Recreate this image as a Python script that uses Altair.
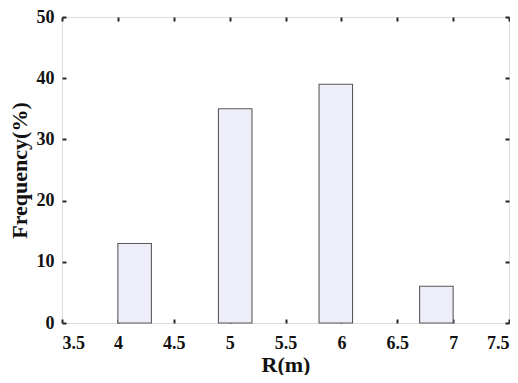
import altair as alt
import pandas as pd

bin_start = [4.0, 4.9, 5.8, 6.7]
bin_end = [4.3, 5.2, 6.1, 7.0]
freq = [13, 35, 39, 6]
x_ticks = [3.5, 4, 4.5, 5, 5.5, 6, 6.5, 7, 7.5]
y_ticks = [0, 10, 20, 30, 40, 50]

df = pd.DataFrame({"x0": bin_start, "x1": bin_end, "f": freq})

FONT = "Liberation Serif"
AX = "#262626"

xs = alt.Scale(domain=[3.5, 7.5], nice=False, zero=False)
ys = alt.Scale(domain=[0, 50], nice=False)

common_axis = dict(
    domain=False, tickSize=4, tickWidth=2, tickColor=AX, offset=-4,
    grid=False, labelFont=FONT, labelFontWeight="bold", labelFontSize=18,
    labelColor="#111111", titleFont=FONT, titleFontWeight="bold",
    titleFontSize=22, titleColor="#111111",
)

bars = alt.Chart(df).mark_bar(
    fill="#EEEEFA", stroke="#5a5a5a", strokeWidth=1.1
).encode(
    x=alt.X("x0:Q", scale=xs, axis=alt.Axis(values=x_ticks, title="R(m)", format="~f",
            labelPadding=11, titlePadding=2, **common_axis)),
    x2="x1:Q",
    y=alt.Y("f:Q", scale=ys, axis=alt.Axis(values=y_ticks, title="Frequency(%)", format="d",
            labelPadding=8, titlePadding=5, **common_axis)),
    y2=alt.datum(0),
)

mirror_axis = dict(domain=False, tickSize=4, tickWidth=2, tickColor=AX,
                   offset=-4, grid=False, labels=False, title=None)
mirror = alt.Chart(df).mark_bar(opacity=0).encode(
    x=alt.X("x0:Q", scale=xs, axis=alt.Axis(orient="top", values=x_ticks, **mirror_axis)),
    x2="x1:Q",
    y=alt.Y("f:Q", scale=ys, axis=alt.Axis(orient="right", values=y_ticks, **mirror_axis)),
    y2=alt.datum(0),
)

chart = alt.layer(bars, mirror).resolve_axis(x="independent", y="independent").properties(
    width=502, height=367,
    padding={"left": 0, "top": 0, "right": 0, "bottom": 0},
    autosize=alt.AutoSizeParams(type="fit", contains="padding"),
).configure_view(stroke=AX, strokeWidth=2).configure(background="white")

chart.save("out.html", embed_options={"renderer": "svg", "actions": False})
